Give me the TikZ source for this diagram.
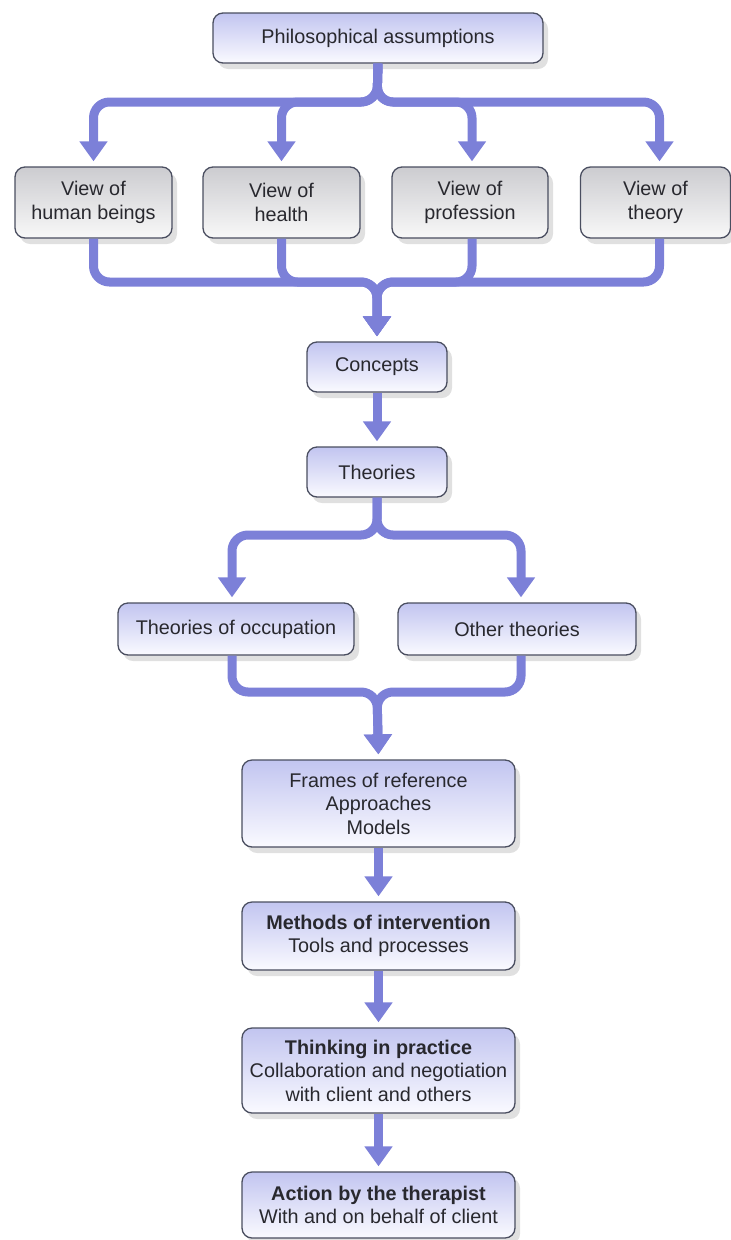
\documentclass[tikz,border=0pt]{standalone}
\usepackage{fontspec}
\setmainfont{Liberation Sans}
\usetikzlibrary{arrows.meta,shadows}

\definecolor{linkblue}{RGB}{124,128,216}
\definecolor{boxedge}{RGB}{74,78,96}
\definecolor{lavtop}{RGB}{194,197,240}
\definecolor{lavbot}{RGB}{250,250,255}
\definecolor{greytop}{RGB}{204,204,208}
\definecolor{greybot}{RGB}{248,248,248}
\definecolor{txt}{RGB}{40,40,46}

\tikzset{
  basebox/.style={draw=boxedge, line width=1.3pt, rounded corners=10pt,
    align=center, text=txt, inner sep=2pt,
    font=\fontsize{19.8}{23.5}\selectfont,
    drop shadow={shadow xshift=5pt, shadow yshift=-6pt, opacity=0.35, fill=gray!70}},
  lavbox/.style={basebox, top color=lavtop, bottom color=lavbot},
  greybox/.style={basebox, top color=greytop, bottom color=greybot},
  conn/.style={draw=linkblue, line width=9pt, rounded corners=16pt,
    -{Triangle[width=27pt,length=20pt]}, shorten >=5pt}
}

\begin{document}
\begin{tikzpicture}[x=1pt,y=-1pt]
\useasboundingbox (0,0) rectangle (731,1240);

% boxes
\node[lavbox, minimum width=330pt, minimum height=50pt] (top) at (378,38) {Philosophical assumptions};

\node[greybox, minimum width=157pt, minimum height=71pt] (vb1) at (93.5,202.5) {View of\\human beings};
\node[greybox, minimum width=157pt, minimum height=71pt] (vb2) at (281.5,202.5) {View of\\health};
\node[greybox, minimum width=156pt, minimum height=71pt] (vb3) at (470,202.5) {View of\\profession};
\node[greybox, minimum width=150pt, minimum height=71pt] (vb4) at (655.5,202.5) {View of\\theory};

\node[lavbox, minimum width=140pt, minimum height=50pt] (concepts) at (377,367) {Concepts};
\node[lavbox, minimum width=140pt, minimum height=50pt] (theories) at (377,472) {Theories};

\node[lavbox, minimum width=236pt, minimum height=52pt] (occ) at (236,629) {Theories of occupation};
\node[lavbox, minimum width=238pt, minimum height=52pt] (other) at (517,629) {Other theories};

\node[lavbox, minimum width=273pt, minimum height=87pt] (frames) at (378.5,803.5) {Frames of reference\\Approaches\\Models};
\node[lavbox, minimum width=273pt, minimum height=68pt] (methods) at (378.5,936) {\textbf{Methods of intervention}\\Tools and processes};
\node[lavbox, minimum width=273pt, minimum height=85pt] (thinking) at (378.5,1070.5) {\textbf{Thinking in practice}\\Collaboration and negotiation\\with client and others};
\node[lavbox, minimum width=273pt, minimum height=66pt] (action) at (378.5,1205) {\textbf{Action by the therapist}\\With and on behalf of client};

% junction points of the branching connectors
\coordinate (jA) at (377,102);
\coordinate (jB) at (377,282);
\coordinate (jC) at (377,535);
\coordinate (jD) at (377,692);

% split below the top box
\draw[conn] (top.south) -- (jA) -| (vb1.north);
\draw[conn] (top.south) -- (jA) -| (vb2.north);
\draw[conn] (top.south) -- (jA) -| ([xshift=2pt]vb3.north);
\draw[conn] (top.south) -- (jA) -| ([xshift=4pt]vb4.north);

% merge into Concepts
\draw[conn] (vb1.south) |- (jB) -- (concepts.north);
\draw[conn] (vb2.south) |- (jB) -- (concepts.north);
\draw[conn] ([xshift=2pt]vb3.south) |- (jB) -- (concepts.north);
\draw[conn] ([xshift=4pt]vb4.south) |- (jB) -- (concepts.north);

\draw[conn] (concepts.south) -- (theories.north);

% split below Theories
\draw[conn] (theories.south) -- (jC) -| ([xshift=-4pt]occ.north);
\draw[conn] (theories.south) -- (jC) -| ([xshift=4pt]other.north);

% merge into Frames of reference
\draw[conn] ([xshift=-4pt]occ.south) |- (jD) -- (frames.north);
\draw[conn] ([xshift=4pt]other.south) |- (jD) -- (frames.north);

% straight chain
\draw[conn] (frames.south) -- (methods.north);
\draw[conn] (methods.south) -- (thinking.north);
\draw[conn] (thinking.south) -- (action.north);
\end{tikzpicture}
\end{document}
